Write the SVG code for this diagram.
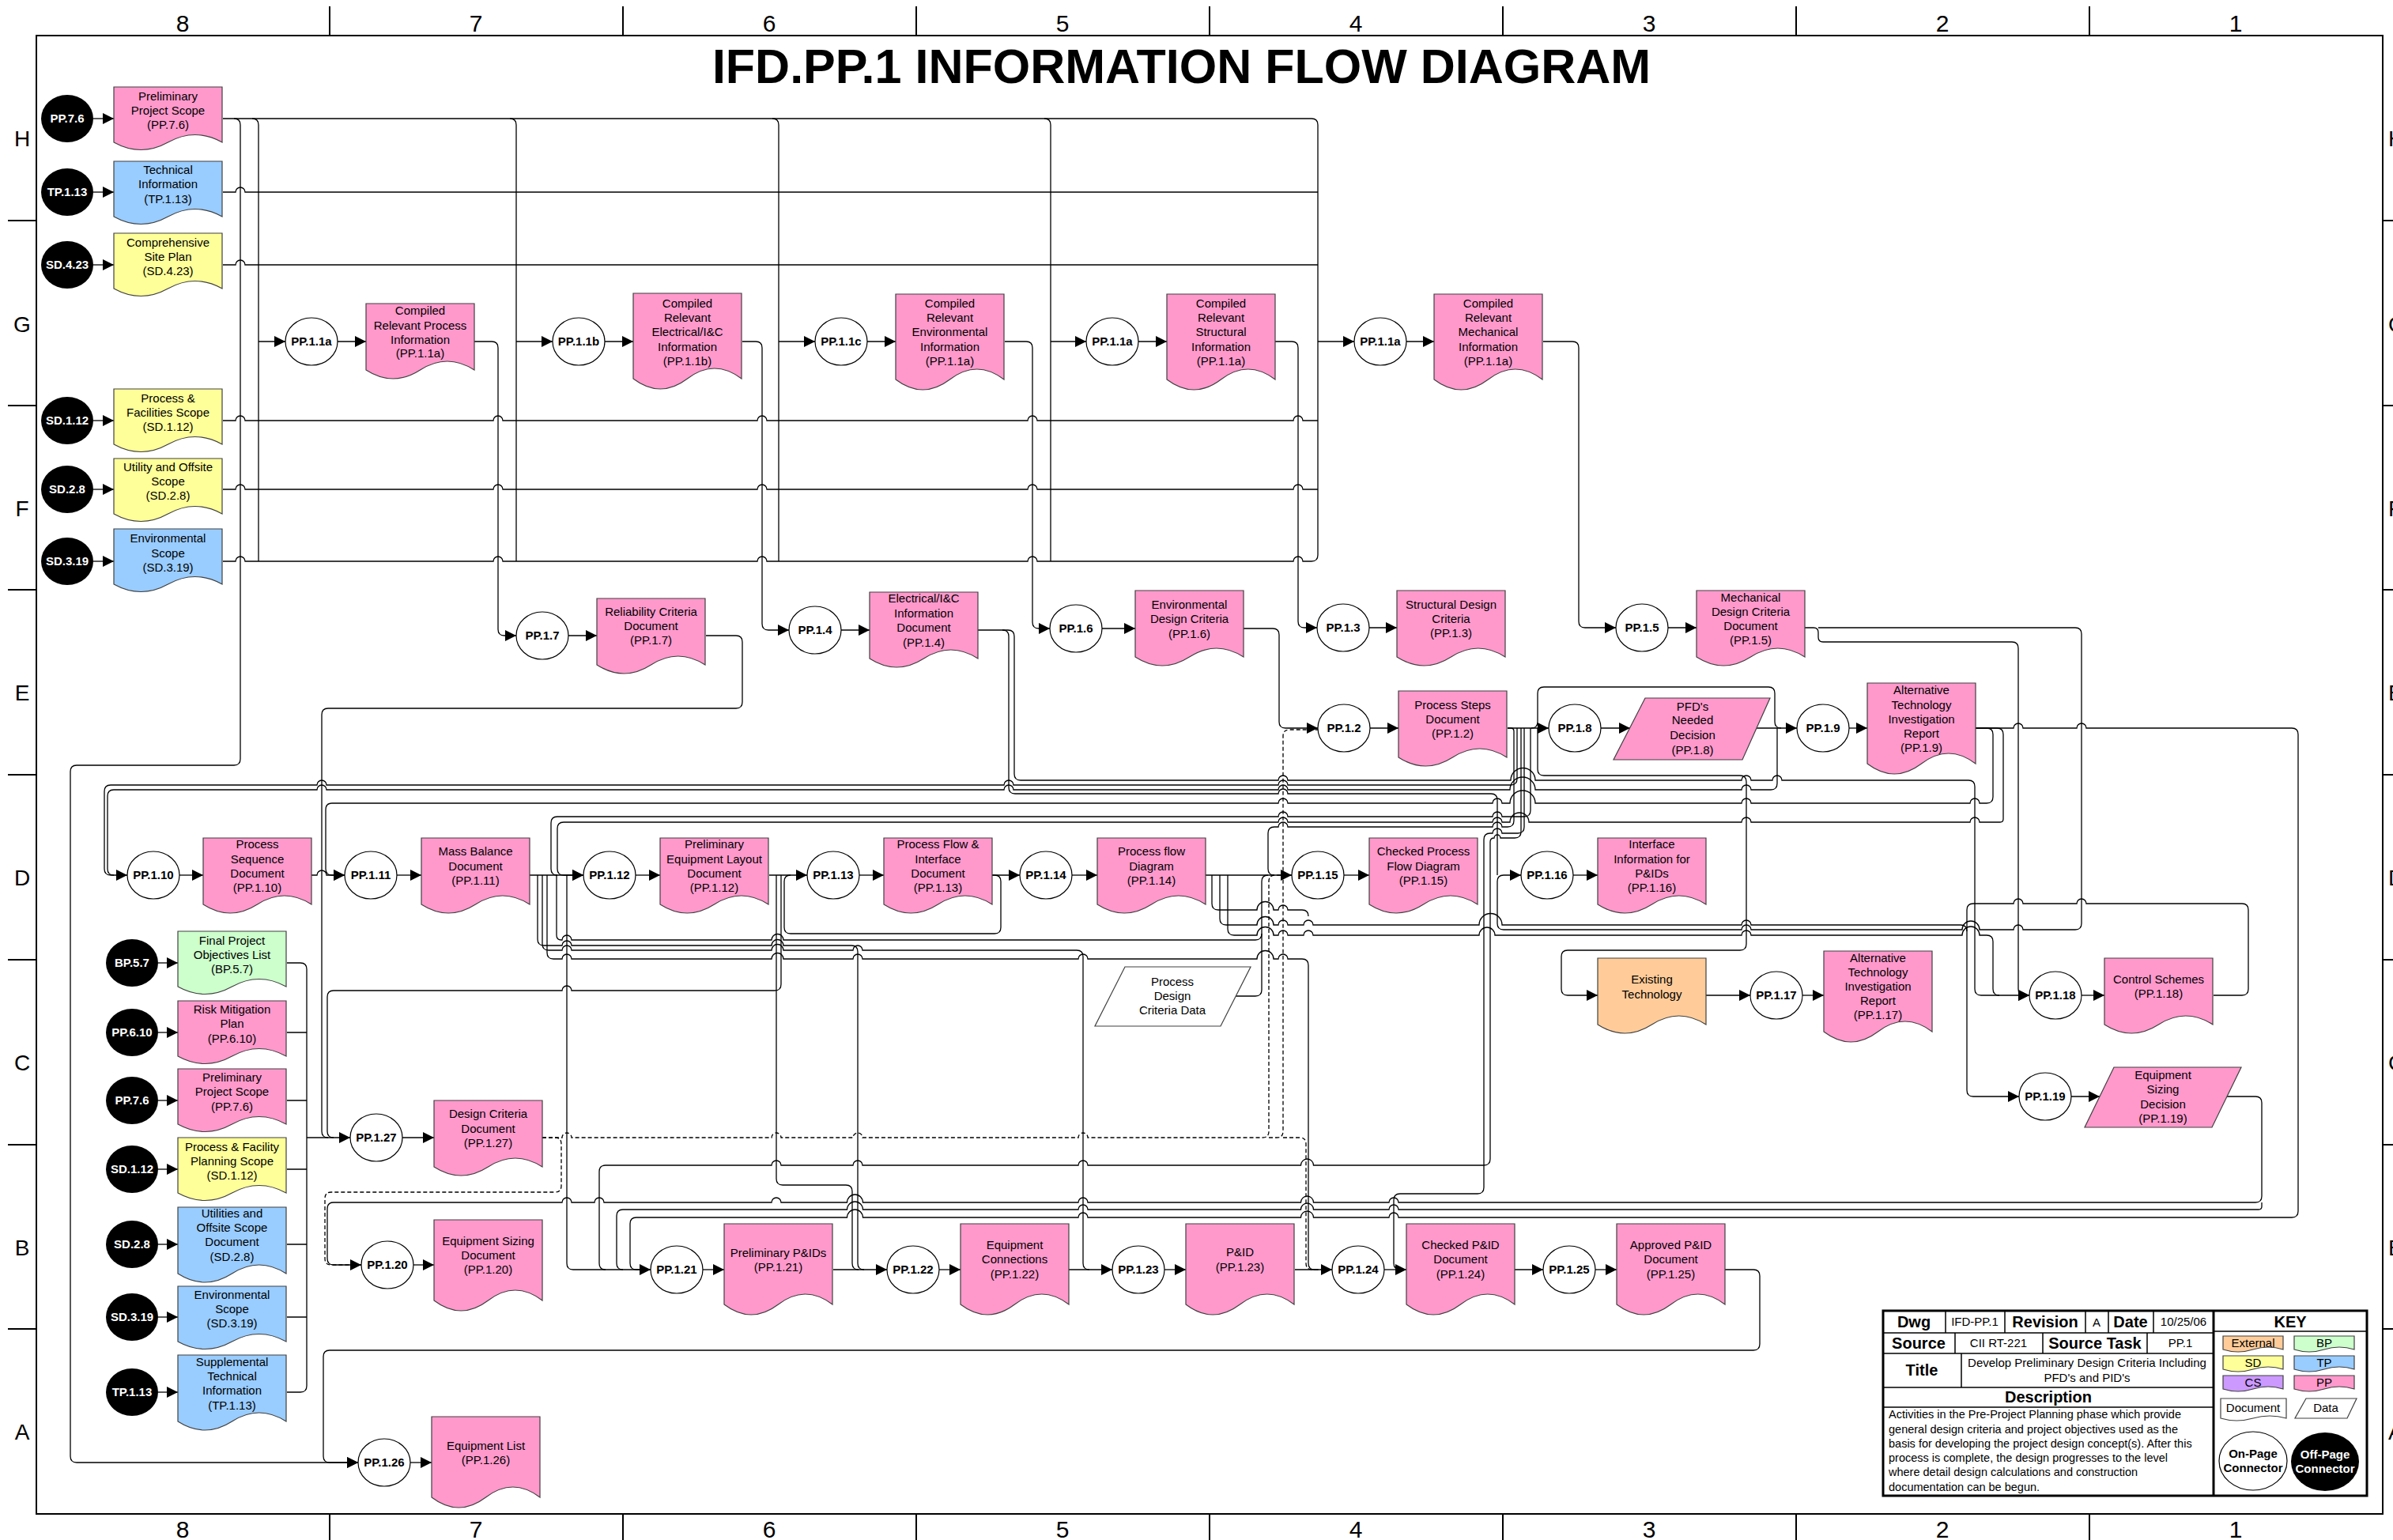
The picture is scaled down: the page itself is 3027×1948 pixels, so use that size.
<svg xmlns="http://www.w3.org/2000/svg" width="3027" height="1948" viewBox="0 0 3027 1948">
<style>
text{font-family:"Liberation Sans",Arial,Helvetica,sans-serif}
.t{font-size:15px;text-anchor:middle;fill:#000}
.c{font-size:15px;font-weight:bold;text-anchor:middle;fill:#000}
.cw{font-size:15px;font-weight:bold;text-anchor:middle;fill:#fff}
.on{fill:#fff;stroke:#000;stroke-width:1.2}
.off{fill:#000}
.doc{stroke:#404040;stroke-width:1.2}
.pk{fill:#FF99CC}.bl{fill:#99CCFF}.yl{fill:#FFFF99}.gr{fill:#CCFFCC}.or{fill:#FFCC99}.pu{fill:#CC99FF}.wh{fill:#fff}
.ln{fill:none;stroke:#000;stroke-width:1.3}
.ar{marker-end:url(#ar)}
.da{stroke-dasharray:5 3}
.fr{fill:none;stroke:#000;stroke-width:2}
.g{font-size:30px;text-anchor:middle}
.gs{font-size:28px}
.b20{font-size:20px;font-weight:bold;text-anchor:middle}
.r15{font-size:15px;text-anchor:middle}
.ds{font-size:14.5px}
</style>
<defs>
<marker id="ar" markerWidth="14" markerHeight="14" refX="14" refY="7" orient="auto" markerUnits="userSpaceOnUse"><path d="M0,0L14,7L0,14Z" fill="#000"/></marker>
<g id="d80"><path d="M0,0H137V70Q102.75,51 68.5,70T0,70Z"/></g>
<g id="d95"><path d="M0,0H137V84Q102.75,62 68.5,84T0,84Z"/></g>
<g id="d115"><path d="M0,0H137V102Q102.75,76 68.5,102T0,102Z"/></g>
<g id="d121"><path d="M0,0H137V108Q102.75,82 68.5,108T0,108Z"/></g>
<g id="k"><path d="M0,0H76V17Q57,11 38,17T0,17Z"/></g>
</defs>
<rect width="3027" height="1948" fill="#fff"/>

<g id="frame">
<rect class="fr" x="46" y="45" width="2968" height="1870"/>
<path class="fr" d="M417,8V45M788,8V45M1159,8V45M1530,8V45M1901,8V45M2272,8V45M2643,8V45M417,1915V1948M788,1915V1948M1159,1915V1948M1530,1915V1948M1901,1915V1948M2272,1915V1948M2643,1915V1948M10,279H46M10,513H46M10,746H46M10,980H46M10,1214H46M10,1448H46M10,1681H46M3014,279H3027M3014,513H3027M3014,746H3027M3014,980H3027M3014,1214H3027M3014,1448H3027M3014,1681H3027"/>
<text class="g" x="231" y="40">8</text><text class="g" x="602" y="40">7</text><text class="g" x="973" y="40">6</text><text class="g" x="1344" y="40">5</text><text class="g" x="1715" y="40">4</text><text class="g" x="2086" y="40">3</text><text class="g" x="2457" y="40">2</text><text class="g" x="2828" y="40">1</text>
<text class="g" x="231" y="1945">8</text><text class="g" x="602" y="1945">7</text><text class="g" x="973" y="1945">6</text><text class="g" x="1344" y="1945">5</text><text class="g" x="1715" y="1945">4</text><text class="g" x="2086" y="1945">3</text><text class="g" x="2457" y="1945">2</text><text class="g" x="2828" y="1945">1</text>
<text class="g gs" x="28" y="185">H</text><text class="g gs" x="28" y="420">G</text><text class="g gs" x="28" y="653">F</text><text class="g gs" x="28" y="886">E</text><text class="g gs" x="28" y="1120">D</text><text class="g gs" x="28" y="1354">C</text><text class="g gs" x="28" y="1588">B</text><text class="g gs" x="28" y="1821">A</text>
<text class="gs" x="3021" y="185">H</text><text class="gs" x="3021" y="420">G</text><text class="gs" x="3021" y="653">F</text><text class="gs" x="3021" y="886">E</text><text class="gs" x="3021" y="1120">D</text><text class="gs" x="3021" y="1354">C</text><text class="gs" x="3021" y="1588">B</text><text class="gs" x="3021" y="1821">A</text>
<text x="1494.5" y="105" font-size="61" font-weight="bold" text-anchor="middle">IFD.PP.1 INFORMATION FLOW DIAGRAM</text>
</g>

<g id="connectors">
<path class="ln ar" d="M118,150H144"/><path class="ln ar" d="M118,243H144"/><path class="ln ar" d="M118,335H144"/><path class="ln ar" d="M118,532H144"/><path class="ln ar" d="M118,619H144"/><path class="ln ar" d="M118,710H144"/>
<path class="ln ar" d="M200,1218H225"/><path class="ln ar" d="M200,1306H225"/><path class="ln ar" d="M200,1392H225"/><path class="ln ar" d="M200,1479H225"/><path class="ln ar" d="M200,1574H225"/><path class="ln ar" d="M200,1666H225"/><path class="ln ar" d="M200,1761H225"/>
<path class="ln" d="M282,150H1659Q1667,150 1667,158"/>
<path class="ln" d="M282,243H298a6,6 0 0 1 12,0H1667"/>
<path class="ln" d="M282,335H298a6,6 0 0 1 12,0H1667"/>
<path class="ln" d="M282,532H298a6,6 0 0 1 12,0H624a6,6 0 0 1 12,0H958a6,6 0 0 1 12,0H1300a6,6 0 0 1 12,0H1636a6,6 0 0 1 12,0H1667"/>
<path class="ln" d="M282,619H298a6,6 0 0 1 12,0H624a6,6 0 0 1 12,0H958a6,6 0 0 1 12,0H1300a6,6 0 0 1 12,0H1636a6,6 0 0 1 12,0H1667"/>
<path class="ln" d="M282,710H298a6,6 0 0 1 12,0H624a6,6 0 0 1 12,0H958a6,6 0 0 1 12,0H1300a6,6 0 0 1 12,0H1636a6,6 0 0 1 12,0H1659Q1667,710 1667,702"/>
<path class="ln" d="M319,150Q327,150 327,158V710M645,150Q653,150 653,158V710M977,150Q985,150 985,158V710M1321,150Q1329,150 1329,158V710M1667,158V702"/>
<path class="ln ar" d="M327,432H361"/><path class="ln ar" d="M653,432H699"/><path class="ln ar" d="M985,432H1031"/><path class="ln ar" d="M1329,432H1374"/><path class="ln ar" d="M1667,432H1713"/>
<path class="ln ar" d="M427,432H463"/><path class="ln ar" d="M765,432H801"/><path class="ln ar" d="M1097,432H1133"/><path class="ln ar" d="M1440,432H1476"/><path class="ln ar" d="M1779,432H1814"/>
<path class="ln ar" d="M600,432H622Q630,432 630,440V796Q630,804 638,804H653"/>
<path class="ln ar" d="M939,432H956Q964,432 964,440V789Q964,797 972,797H998"/>
<path class="ln ar" d="M1271,432H1298Q1306,432 1306,440V787Q1306,795 1314,795H1328"/>
<path class="ln ar" d="M1613,432H1634Q1642,432 1642,440V786Q1642,794 1650,794H1666"/>
<path class="ln ar" d="M1952,432H1989Q1997,432 1997,440V786Q1997,794 2005,794H2044"/>
<path class="ln ar" d="M719,804H755"/><path class="ln ar" d="M1064,797H1100"/><path class="ln ar" d="M1394,795H1436"/><path class="ln ar" d="M1732,794H1767"/><path class="ln ar" d="M2110,794H2146"/>
<path class="ln ar" d="M296,150Q304,150 304,158V960Q304,968 296,968H97Q89,968 89,976V1842Q89,1850 97,1850H453"/>
<path class="ln" d="M893,804H931Q939,804 939,812V888Q939,896 931,896H415Q407,896 407,904V1431Q407,1439 415,1439"/>
<path class="ln" d="M363,1218H380Q388,1218 388,1226V1753Q388,1761 380,1761H363M363,1306H388M363,1392H388M363,1479H388M363,1574H388M363,1666H388"/>
<path class="ln ar" d="M388,1439H443"/>
<path class="ln ar" d="M1573,795H1610Q1618,795 1618,803V913Q1618,921 1626,921H1667"/>
<path class="ln ar" d="M1733,921H1769"/>
<path class="ln ar" d="M1907,921H1959"/>
<path class="ln ar" d="M2025,921H2062"/>
<path class="ln ar" d="M2222,921H2273"/>
<path class="ln" d="M1937,921Q1945,921 1945,913V877Q1945,869 1953,869H2237Q2245,869 2245,877V913Q2245,921 2253,921"/>
<path class="ln ar" d="M2339,921H2362"/>
<path class="ln ar" d="M2498,921H2547a6,6 0 0 1 12,0H2627a6,6 0 0 1 12,0H2899Q2907,921 2907,929V1532Q2907,1540 2899,1540H1769a6,6 0 0 0 -12,0H1661.5a8,8 0 0 0 -16,0H1376a6,6 0 0 0 -12,0H1091.5a10,10 0 0 0 -20,0H805Q797,1540 797,1548V1598Q797,1606 805,1606H823"/>
<path class="ln ar" d="M2283,794H2294Q2300,794 2300,800V806Q2300,812 2306,812H2545Q2553,812 2553,820V1251Q2553,1259 2561,1259H2567"/>
<path class="ln ar" d="M2300,794H2625Q2633,794 2633,802V1168Q2633,1176 2625,1176H2559a6,6 0 0 0 -12,0H2504a11,11 0 0 0 -22,0H2215a6,6 0 0 0 -12,0H1902Q1894,1176 1894,1168V1115Q1894,1107 1902,1107H1924"/>
<path class="ln ar" d="M2800,1259H2836Q2844,1259 2844,1251V1151Q2844,1143 2836,1143H2639a6,6 0 0 0 -12,0H2559a6,6 0 0 0 -12,0H2496Q2488,1143 2488,1151V1379Q2488,1387 2496,1387H2554"/>
<path class="ln ar" d="M2620,1387H2656"/>
<path class="ln ar" d="M2817,1387H2853Q2861,1387 2861,1395V1513Q2861,1521 2853,1521H1769a6,6 0 0 0 -12,0H1661.5a8,8 0 0 0 -16,0H1376a6,6 0 0 0 -12,0H1091.5a10,10 0 0 0 -20,0H988a6,6 0 0 0 -12,0H764a6,6 0 0 0 -12,0H723a6,6 0 0 0 -12,0H422Q414,1521 414,1529V1592Q414,1600 422,1600H457"/>
<path class="ln" d="M2861,1521V1526Q2861,1530 2857,1530H1769a6,6 0 0 0 -12,0H1661.5a8,8 0 0 0 -16,0H1376a6,6 0 0 0 -12,0H1091.5a10,10 0 0 0 -20,0H788Q780,1530 780,1538V1598Q780,1606 788,1606"/>
<path class="ln ar" d="M2158,1259H2214"/>
<path class="ln ar" d="M2280,1259H2307"/>
<path class="ln ar" d="M2633,1259H2662"/>
<path class="ln ar" d="M1945,921V973Q1945,981 1953,981H2201Q2209,981 2209,989V1194Q2209,1202 2201,1202H1983Q1975,1202 1975,1210V1251Q1975,1259 1983,1259H2021"/>
<path class="ln ar" d="M1919,921V985Q1919,993 1911,993H1629a6,6 0 0 0 -12,0H1282a6,6 0 0 0 -12,0H413a6,6 0 0 0 -12,0H140Q132,993 132,1001V1099Q132,1107 140,1107H161"/>
<path class="ln" d="M2248,921V991Q2248,999 2240,999H2215a6,6 0 0 0 -12,0H1942a16,16 0 0 0 -32,0H1629a6,6 0 0 0 -12,0H1282a6,6 0 0 0 -12,0H413a6,6 0 0 0 -12,0H144Q136,999 136,1007V1099Q136,1107 144,1107"/>
<path class="ln ar" d="M2498,921H2513Q2521,921 2521,929V1008Q2521,1016 2513,1016H2504a6,6 0 0 0 -12,0H2215a6,6 0 0 0 -12,0H1942a16,16 0 0 0 -32,0H1900a6,6 0 0 0 -12,0H1629a6,6 0 0 0 -12,0H420Q412,1016 412,1024V1099Q412,1107 420,1107H436"/>
<path class="ln ar" d="M2498,921H2526Q2534,921 2534,929V1036Q2534,1040 2530,1040H2504a6,6 0 0 0 -12,0H2215a6,6 0 0 0 -12,0H1934a12,12 0 0 0 -24,0H1900a6,6 0 0 0 -12,0H1629a6,6 0 0 0 -12,0H713Q705,1040 705,1048V1099Q705,1107 713,1107H738"/>
<path class="ln" d="M1936,921V1025Q1936,1033 1928,1033H1900a6,6 0 0 0 -12,0H1629a6,6 0 0 0 -12,0H705Q697,1033 697,1041V1099Q697,1107 705,1107"/>
<path class="ln ar" d="M1237,797H1275Q1283,797 1283,805V979Q1283,987 1291,987H1617a6,6 0 0 1 12,0H1911a15.5,15.5 0 0 1 31,0H2203a6,6 0 0 1 12,0H2242a6,6 0 0 1 12,0H2490Q2498,987 2498,995V1251Q2498,1259 2506,1259H2567"/>
<path class="ln" d="M1268,797Q1276,797 1276,805V996Q1276,1004 1284,1004H1617a6,6 0 0 1 12,0H1886Q1894,1004 1894,1012V1107"/>
<path class="ln" d="M1907,921H1911Q1915,921 1915,925V1038Q1915,1046 1907,1046H1900a6,6 0 0 0 -12,0H1629a6,6 0 0 0 -12,0H1612Q1604,1046 1604,1054V1099Q1604,1107 1612,1107"/>
<path class="ln ar" d="M227,1107H257"/>
<path class="ln ar" d="M394,1107H401a6,6 0 0 1 12,0H436"/>
<path class="ln ar" d="M502,1107H533"/>
<path class="ln ar" d="M670,1107H738"/>
<path class="ln ar" d="M804,1107H835"/>
<path class="ln ar" d="M973,1107H1021"/>
<path class="ln ar" d="M1087,1107H1118"/>
<path class="ln ar" d="M1255,1107H1290"/>
<path class="ln ar" d="M1356,1107H1388"/>
<path class="ln ar" d="M1525,1107H1634"/>
<path class="ln ar" d="M1700,1107H1732"/>
<path class="ln ar" d="M1990,1107H2021"/>
<path class="ln" d="M680,1107V1188Q680,1196 688,1196H711a6,6 0 0 1 12,0H976a7.5,7.5 0 0 1 15,0H1077Q1085,1196 1085,1204V1598Q1085,1606 1093,1606"/>
<path class="ln" d="M686,1107V1194Q686,1202 694,1202H711a6,6 0 0 1 12,0H976a7.5,7.5 0 0 1 15,0H1079a6,6 0 0 1 12,0H1362Q1370,1202 1370,1210V1598Q1370,1606 1378,1606"/>
<path class="ln" d="M692,1107V1205Q692,1213 700,1213H711a6,6 0 0 1 12,0H976a7.5,7.5 0 0 1 15,0H1079a6,6 0 0 1 12,0H1364a6,6 0 0 1 12,0H1590a10.5,10.5 0 0 1 21,0H1617a6,6 0 0 1 12,0H1647Q1655,1213 1655,1221V1598Q1655,1606 1663,1606"/>
<path class="ln" d="M717,1107V1598Q717,1606 725,1606H823"/>
<path class="ln" d="M704,1107V1183Q704,1189 710,1189H711a6,6 0 0 1 12,0H976a7.5,7.5 0 0 1 15,0H1588Q1596,1189 1596,1181"/>
<path class="ln" d="M988,1107V1245Q988,1253 980,1253H723a6,6 0 0 0 -12,0H422Q414,1253 414,1261V1431Q414,1439 422,1439"/>
<path class="ln" d="M982,1107V1491Q982,1499 990,1499H1070Q1078,1499 1078,1507V1598Q1078,1606 1086,1606"/>
<path class="ln" d="M1255,1107H1258Q1266,1107 1266,1115V1173Q1266,1181 1258,1181H1000Q992,1181 992,1173V1115Q992,1107 1000,1107"/>
<path class="ln" d="M1563,1260H1588Q1596,1260 1596,1252V1115Q1596,1107 1604,1107"/>
<path class="ln" d="M1533,1107V1143Q1533,1151 1541,1151H1590a10.5,10.5 0 0 1 21,0H1617a6,6 0 0 1 12,0H1647Q1655,1151 1655,1159"/>
<path class="ln" d="M1543,1107V1162Q1543,1170 1551,1170H1590a10.5,10.5 0 0 1 21,0H1617a6,6 0 0 1 12,0H1649a6,6 0 0 1 12,0H1871a14.5,14.5 0 0 1 29,0H2203a6,6 0 0 1 12,0H2480Q2488,1170 2488,1178"/>
<path class="ln" d="M1553,1107V1175Q1553,1183 1561,1183H1590a10.5,10.5 0 0 1 21,0H1617a6,6 0 0 1 12,0H1649a6,6 0 0 1 12,0H1871a10,10 0 0 1 20,0H2203a6,6 0 0 1 12,0H2482a11,11 0 0 1 22,0H2513Q2521,1183 2521,1191V1251Q2521,1259 2529,1259"/>
<path class="ln" d="M1928,921V1046Q1928,1054 1920,1054H1900a6,6 0 0 0 -12,0H1885Q1877,1054 1877,1062V1502Q1877,1510 1869,1510H1771Q1763,1510 1763,1518V1598Q1763,1606 1771,1606"/>
<path class="ln" d="M1924,921V1052Q1924,1060 1916,1060H1898a4,4 0 0 0 -8,0Q1885,1060 1885,1065V1466Q1885,1474 1877,1474H1661.5a8,8 0 0 0 -16,0H1376a6,6 0 0 0 -12,0H1091a6,6 0 0 0 -12,0H988a6,6 0 0 0 -12,0H766Q758,1474 758,1482V1598Q758,1606 766,1606"/>
<path class="ln da" d="M686,1439H711a6,6 0 0 1 12,0H976a6,6 0 0 1 12,0H1079a6,6 0 0 1 12,0H1364a6,6 0 0 1 12,0H1597Q1605,1439 1605,1431V1115Q1605,1107 1613,1107H1634"/>
<path class="ln da" d="M1605,1439H1615Q1623,1439 1623,1431V931Q1623,923 1631,923H1667"/>
<path class="ln da" d="M1623,1439H1644Q1652,1439 1652,1447V1598Q1652,1606 1660,1606H1685"/>
<path class="ln da" d="M686,1439H702Q710,1439 710,1447V1500Q710,1508 702,1508H419Q411,1508 411,1516V1592Q411,1600 419,1600H457"/>
<path class="ln ar" d="M889,1606H916"/><path class="ln ar" d="M1054,1606H1122"/><path class="ln ar" d="M1188,1606H1215"/><path class="ln ar" d="M1352,1606H1407"/><path class="ln ar" d="M1473,1606H1500"/><path class="ln ar" d="M1638,1606H1685"/><path class="ln ar" d="M1751,1606H1779"/><path class="ln ar" d="M1916,1606H1952"/><path class="ln ar" d="M2018,1606H2045"/>
<path class="ln ar" d="M523,1600H549"/><path class="ln ar" d="M509,1439H549"/><path class="ln ar" d="M519,1850H546"/>
<path class="ln ar" d="M2181,1606H2218Q2226,1606 2226,1614V1700Q2226,1708 2218,1708H417Q409,1708 409,1716V1842Q409,1850 417,1850H453"/>
</g>

<g id="n-off-pp76"><ellipse class="off" cx="85" cy="150" rx="33" ry="30"/><text class="cw" x="85" y="155">PP.7.6</text></g>
<g id="n-off-tp113"><ellipse class="off" cx="85" cy="243" rx="33" ry="30"/><text class="cw" x="85" y="248">TP.1.13</text></g>
<g id="n-off-sd423"><ellipse class="off" cx="85" cy="335" rx="33" ry="30"/><text class="cw" x="85" y="340">SD.4.23</text></g>
<g id="n-off-sd112"><ellipse class="off" cx="85" cy="532" rx="33" ry="30"/><text class="cw" x="85" y="537">SD.1.12</text></g>
<g id="n-off-sd28"><ellipse class="off" cx="85" cy="619" rx="33" ry="30"/><text class="cw" x="85" y="624">SD.2.8</text></g>
<g id="n-off-sd319"><ellipse class="off" cx="85" cy="710" rx="33" ry="30"/><text class="cw" x="85" y="715">SD.3.19</text></g>

<g id="n-doc-pp76"><use href="#d80" x="144" y="110" class="doc pk"/><text class="t" x="212.5" y="127">Preliminary</text><text class="t" x="212.5" y="145">Project Scope</text><text class="t" x="212.5" y="163">(PP.7.6)</text></g>
<g id="n-doc-tp113"><use href="#d80" x="144" y="204" class="doc bl"/><text class="t" x="212.5" y="220">Technical</text><text class="t" x="212.5" y="238">Information</text><text class="t" x="212.5" y="257">(TP.1.13)</text></g>
<g id="n-doc-sd423"><use href="#d80" x="144" y="295" class="doc yl"/><text class="t" x="212.5" y="312">Comprehensive</text><text class="t" x="212.5" y="330">Site Plan</text><text class="t" x="212.5" y="348">(SD.4.23)</text></g>
<g id="n-doc-sd112"><use href="#d80" x="144" y="492" class="doc yl"/><text class="t" x="212.5" y="509">Process &amp;</text><text class="t" x="212.5" y="527">Facilities Scope</text><text class="t" x="212.5" y="545">(SD.1.12)</text></g>
<g id="n-doc-sd28"><use href="#d80" x="144" y="580" class="doc yl"/><text class="t" x="212.5" y="596">Utility and Offsite</text><text class="t" x="212.5" y="614">Scope</text><text class="t" x="212.5" y="632">(SD.2.8)</text></g>
<g id="n-doc-sd319"><use href="#d80" x="144" y="669" class="doc bl"/><text class="t" x="212.5" y="686">Environmental</text><text class="t" x="212.5" y="705">Scope</text><text class="t" x="212.5" y="723">(SD.3.19)</text></g>

<g id="n-pp11a-1"><ellipse class="on" cx="394" cy="432" rx="33" ry="30"/><text class="c" x="394" y="437">PP.1.1a</text></g>
<g id="n-doc-pp11a-1"><use href="#d95" x="463" y="384" class="doc pk"/><text class="t" x="531.5" y="398">Compiled</text><text class="t" x="531.5" y="417">Relevant Process</text><text class="t" x="531.5" y="435">Information</text><text class="t" x="531.5" y="452">(PP.1.1a)</text></g>
<g id="n-pp11b"><ellipse class="on" cx="732" cy="432" rx="33" ry="30"/><text class="c" x="732" y="437">PP.1.1b</text></g>
<g id="n-doc-pp11b"><use href="#d121" x="801" y="371" class="doc pk"/><text class="t" x="869.5" y="389">Compiled</text><text class="t" x="869.5" y="407">Relevant</text><text class="t" x="869.5" y="425">Electrical/I&amp;C</text><text class="t" x="869.5" y="444">Information</text><text class="t" x="869.5" y="462">(PP.1.1b)</text></g>
<g id="n-pp11c"><ellipse class="on" cx="1064" cy="432" rx="33" ry="30"/><text class="c" x="1064" y="437">PP.1.1c</text></g>
<g id="n-doc-pp11c"><use href="#d121" x="1133" y="372" class="doc pk"/><text class="t" x="1201.5" y="389">Compiled</text><text class="t" x="1201.5" y="407">Relevant</text><text class="t" x="1201.5" y="425">Environmental</text><text class="t" x="1201.5" y="444">Information</text><text class="t" x="1201.5" y="462">(PP.1.1a)</text></g>
<g id="n-pp11a-2"><ellipse class="on" cx="1407" cy="432" rx="33" ry="30"/><text class="c" x="1407" y="437">PP.1.1a</text></g>
<g id="n-doc-pp11a-2"><use href="#d121" x="1476" y="372" class="doc pk"/><text class="t" x="1544.5" y="389">Compiled</text><text class="t" x="1544.5" y="407">Relevant</text><text class="t" x="1544.5" y="425">Structural</text><text class="t" x="1544.5" y="444">Information</text><text class="t" x="1544.5" y="462">(PP.1.1a)</text></g>
<g id="n-pp11a-3"><ellipse class="on" cx="1746" cy="432" rx="33" ry="30"/><text class="c" x="1746" y="437">PP.1.1a</text></g>
<g id="n-doc-pp11a-3"><use href="#d121" x="1814" y="372" class="doc pk"/><text class="t" x="1882.5" y="389">Compiled</text><text class="t" x="1882.5" y="407">Relevant</text><text class="t" x="1882.5" y="425">Mechanical</text><text class="t" x="1882.5" y="444">Information</text><text class="t" x="1882.5" y="462">(PP.1.1a)</text></g>

<g id="n-pp17"><ellipse class="on" cx="686" cy="804" rx="33" ry="30"/><text class="c" x="686" y="809">PP.1.7</text></g>
<g id="n-doc-pp17"><use href="#d95" x="755" y="757" class="doc pk"/><text class="t" x="823.5" y="779">Reliability Criteria</text><text class="t" x="823.5" y="797">Document</text><text class="t" x="823.5" y="815">(PP.1.7)</text></g>
<g id="n-pp14"><ellipse class="on" cx="1031" cy="797" rx="33" ry="30"/><text class="c" x="1031" y="802">PP.1.4</text></g>
<g id="n-doc-pp14"><use href="#d95" x="1100" y="749" class="doc pk"/><text class="t" x="1168.5" y="762">Electrical/I&amp;C</text><text class="t" x="1168.5" y="781">Information</text><text class="t" x="1168.5" y="799">Document</text><text class="t" x="1168.5" y="818">(PP.1.4)</text></g>
<g id="n-pp16"><ellipse class="on" cx="1361" cy="795" rx="33" ry="30"/><text class="c" x="1361" y="800">PP.1.6</text></g>
<g id="n-doc-pp16"><use href="#d95" x="1436" y="747" class="doc pk"/><text class="t" x="1504.5" y="770">Environmental</text><text class="t" x="1504.5" y="788">Design Criteria</text><text class="t" x="1504.5" y="807">(PP.1.6)</text></g>
<g id="n-pp13"><ellipse class="on" cx="1699" cy="794" rx="33" ry="30"/><text class="c" x="1699" y="799">PP.1.3</text></g>
<g id="n-doc-pp13"><use href="#d95" x="1767" y="747" class="doc pk"/><text class="t" x="1835.5" y="770">Structural Design</text><text class="t" x="1835.5" y="788">Criteria</text><text class="t" x="1835.5" y="806">(PP.1.3)</text></g>
<g id="n-pp15"><ellipse class="on" cx="2077" cy="794" rx="33" ry="30"/><text class="c" x="2077" y="799">PP.1.5</text></g>
<g id="n-doc-pp15"><use href="#d95" x="2146" y="747" class="doc pk"/><text class="t" x="2214.5" y="761">Mechanical</text><text class="t" x="2214.5" y="779">Design Criteria</text><text class="t" x="2214.5" y="797">Document</text><text class="t" x="2214.5" y="815">(PP.1.5)</text></g>
<g id="n-pp12"><ellipse class="on" cx="1700" cy="921" rx="33" ry="30"/><text class="c" x="1700" y="926">PP.1.2</text></g>
<g id="n-doc-pp12"><use href="#d95" x="1769" y="874" class="doc pk"/><text class="t" x="1837.5" y="897">Process Steps</text><text class="t" x="1837.5" y="915">Document</text><text class="t" x="1837.5" y="933">(PP.1.2)</text></g>
<g id="n-pp18"><ellipse class="on" cx="1992" cy="921" rx="33" ry="30"/><text class="c" x="1992" y="926">PP.1.8</text></g>
<g id="n-data-pp18"><path class="doc pk" d="M2081,883H2239L2204,961H2041Z"/><text class="t" x="2141" y="899">PFD's</text><text class="t" x="2141" y="916">Needed</text><text class="t" x="2141" y="935">Decision</text><text class="t" x="2141" y="954">(PP.1.8)</text></g>
<g id="n-pp19"><ellipse class="on" cx="2306" cy="921" rx="33" ry="30"/><text class="c" x="2306" y="926">PP.1.9</text></g>
<g id="n-doc-pp19"><use href="#d115" x="2362" y="864" class="doc pk"/><text class="t" x="2430.5" y="878">Alternative</text><text class="t" x="2430.5" y="897">Technology</text><text class="t" x="2430.5" y="915">Investigation</text><text class="t" x="2430.5" y="933">Report</text><text class="t" x="2430.5" y="951">(PP.1.9)</text></g>

<g id="n-pp110"><ellipse class="on" cx="194" cy="1107" rx="33" ry="30"/><text class="c" x="194" y="1112">PP.1.10</text></g>
<g id="n-doc-pp110"><use href="#d95" x="257" y="1060" class="doc pk"/><text class="t" x="325.5" y="1073">Process</text><text class="t" x="325.5" y="1092">Sequence</text><text class="t" x="325.5" y="1110">Document</text><text class="t" x="325.5" y="1128">(PP.1.10)</text></g>
<g id="n-pp111"><ellipse class="on" cx="469" cy="1107" rx="33" ry="30"/><text class="c" x="469" y="1112">PP.1.11</text></g>
<g id="n-doc-pp111"><use href="#d95" x="533" y="1060" class="doc pk"/><text class="t" x="601.5" y="1082">Mass Balance</text><text class="t" x="601.5" y="1101">Document</text><text class="t" x="601.5" y="1119">(PP.1.11)</text></g>
<g id="n-pp112"><ellipse class="on" cx="771" cy="1107" rx="33" ry="30"/><text class="c" x="771" y="1112">PP.1.12</text></g>
<g id="n-doc-pp112"><use href="#d95" x="835" y="1060" class="doc pk"/><text class="t" x="903.5" y="1073">Preliminary</text><text class="t" x="903.5" y="1092">Equipment Layout</text><text class="t" x="903.5" y="1110">Document</text><text class="t" x="903.5" y="1128">(PP.1.12)</text></g>
<g id="n-pp113"><ellipse class="on" cx="1054" cy="1107" rx="33" ry="30"/><text class="c" x="1054" y="1112">PP.1.13</text></g>
<g id="n-doc-pp113"><use href="#d95" x="1118" y="1060" class="doc pk"/><text class="t" x="1186.5" y="1073">Process Flow &amp;</text><text class="t" x="1186.5" y="1092">Interface</text><text class="t" x="1186.5" y="1110">Document</text><text class="t" x="1186.5" y="1128">(PP.1.13)</text></g>
<g id="n-pp114"><ellipse class="on" cx="1323" cy="1107" rx="33" ry="30"/><text class="c" x="1323" y="1112">PP.1.14</text></g>
<g id="n-doc-pp114"><use href="#d95" x="1388" y="1060" class="doc pk"/><text class="t" x="1456.5" y="1082">Process flow</text><text class="t" x="1456.5" y="1101">Diagram</text><text class="t" x="1456.5" y="1119">(PP.1.14)</text></g>
<g id="n-pp115"><ellipse class="on" cx="1667" cy="1107" rx="33" ry="30"/><text class="c" x="1667" y="1112">PP.1.15</text></g>
<g id="n-doc-pp115"><use href="#d95" x="1732" y="1060" class="doc pk"/><text class="t" x="1800.5" y="1082">Checked Process</text><text class="t" x="1800.5" y="1101">Flow Diagram</text><text class="t" x="1800.5" y="1119">(PP.1.15)</text></g>
<g id="n-pp116"><ellipse class="on" cx="1957" cy="1107" rx="33" ry="30"/><text class="c" x="1957" y="1112">PP.1.16</text></g>
<g id="n-doc-pp116"><use href="#d95" x="2021" y="1060" class="doc pk"/><text class="t" x="2089.5" y="1073">Interface</text><text class="t" x="2089.5" y="1092">Information for</text><text class="t" x="2089.5" y="1110">P&amp;IDs</text><text class="t" x="2089.5" y="1128">(PP.1.16)</text></g>
<g id="n-data-pdcd"><path class="doc wh" d="M1423,1223H1582L1544,1298H1385Z"/><text class="t" x="1483" y="1247">Process</text><text class="t" x="1483" y="1265">Design</text><text class="t" x="1483" y="1283">Criteria Data</text></g>

<g id="n-doc-exist"><use href="#d95" x="2021" y="1212" class="doc or"/><text class="t" x="2089.5" y="1244">Existing</text><text class="t" x="2089.5" y="1263">Technology</text></g>
<g id="n-pp117"><ellipse class="on" cx="2247" cy="1259" rx="33" ry="30"/><text class="c" x="2247" y="1264">PP.1.17</text></g>
<g id="n-doc-pp117"><use href="#d115" x="2307" y="1203" class="doc pk"/><text class="t" x="2375.5" y="1217">Alternative</text><text class="t" x="2375.5" y="1235">Technology</text><text class="t" x="2375.5" y="1253">Investigation</text><text class="t" x="2375.5" y="1271">Report</text><text class="t" x="2375.5" y="1289">(PP.1.17)</text></g>
<g id="n-pp118"><ellipse class="on" cx="2600" cy="1259" rx="33" ry="30"/><text class="c" x="2600" y="1264">PP.1.18</text></g>
<g id="n-doc-pp118"><use href="#d95" x="2662" y="1212" class="doc pk"/><text class="t" x="2730.5" y="1244">Control Schemes</text><text class="t" x="2730.5" y="1262">(PP.1.18)</text></g>
<g id="n-pp119"><ellipse class="on" cx="2587" cy="1387" rx="33" ry="30"/><text class="c" x="2587" y="1392">PP.1.19</text></g>
<g id="n-data-pp119"><path class="doc pk" d="M2674,1350H2835L2798,1426H2637Z"/><text class="t" x="2736" y="1365">Equipment</text><text class="t" x="2736" y="1383">Sizing</text><text class="t" x="2736" y="1402">Decision</text><text class="t" x="2736" y="1420">(PP.1.19)</text></g>

<g id="n-off-bp57"><ellipse class="off" cx="167" cy="1218" rx="33" ry="30"/><text class="cw" x="167" y="1223">BP.5.7</text></g>
<g id="n-doc-bp57"><use href="#d80" x="225" y="1178" class="doc gr"/><text class="t" x="293.5" y="1195">Final Project</text><text class="t" x="293.5" y="1213">Objectives List</text><text class="t" x="293.5" y="1231">(BP.5.7)</text></g>
<g id="n-off-pp610"><ellipse class="off" cx="167" cy="1306" rx="33" ry="30"/><text class="cw" x="167" y="1311">PP.6.10</text></g>
<g id="n-doc-pp610"><use href="#d80" x="225" y="1266" class="doc pk"/><text class="t" x="293.5" y="1282">Risk Mitigation</text><text class="t" x="293.5" y="1300">Plan</text><text class="t" x="293.5" y="1319">(PP.6.10)</text></g>
<g id="n-off-pp76b"><ellipse class="off" cx="167" cy="1392" rx="33" ry="30"/><text class="cw" x="167" y="1397">PP.7.6</text></g>
<g id="n-doc-pp76b"><use href="#d80" x="225" y="1352" class="doc pk"/><text class="t" x="293.5" y="1368">Preliminary</text><text class="t" x="293.5" y="1386">Project Scope</text><text class="t" x="293.5" y="1405">(PP.7.6)</text></g>
<g id="n-off-sd112b"><ellipse class="off" cx="167" cy="1479" rx="33" ry="30"/><text class="cw" x="167" y="1484">SD.1.12</text></g>
<g id="n-doc-sd112b"><use href="#d80" x="225" y="1439" class="doc yl"/><text class="t" x="293.5" y="1456">Process &amp; Facility</text><text class="t" x="293.5" y="1474">Planning Scope</text><text class="t" x="293.5" y="1492">(SD.1.12)</text></g>
<g id="n-off-sd28b"><ellipse class="off" cx="167" cy="1574" rx="33" ry="30"/><text class="cw" x="167" y="1579">SD.2.8</text></g>
<g id="n-doc-sd28b"><use href="#d95" x="225" y="1527" class="doc bl"/><text class="t" x="293.5" y="1540">Utilities and</text><text class="t" x="293.5" y="1558">Offsite Scope</text><text class="t" x="293.5" y="1576">Document</text><text class="t" x="293.5" y="1595">(SD.2.8)</text></g>
<g id="n-off-sd319b"><ellipse class="off" cx="167" cy="1666" rx="33" ry="30"/><text class="cw" x="167" y="1671">SD.3.19</text></g>
<g id="n-doc-sd319b"><use href="#d80" x="225" y="1627" class="doc bl"/><text class="t" x="293.5" y="1643">Environmental</text><text class="t" x="293.5" y="1661">Scope</text><text class="t" x="293.5" y="1679">(SD.3.19)</text></g>
<g id="n-off-tp113b"><ellipse class="off" cx="167" cy="1761" rx="33" ry="30"/><text class="cw" x="167" y="1766">TP.1.13</text></g>
<g id="n-doc-tp113b"><use href="#d95" x="225" y="1714" class="doc bl"/><text class="t" x="293.5" y="1728">Supplemental</text><text class="t" x="293.5" y="1746">Technical</text><text class="t" x="293.5" y="1764">Information</text><text class="t" x="293.5" y="1783">(TP.1.13)</text></g>

<g id="n-pp127"><ellipse class="on" cx="476" cy="1439" rx="33" ry="30"/><text class="c" x="476" y="1444">PP.1.27</text></g>
<g id="n-doc-pp127"><use href="#d95" x="549" y="1392" class="doc pk"/><text class="t" x="617.5" y="1414">Design Criteria</text><text class="t" x="617.5" y="1433">Document</text><text class="t" x="617.5" y="1451">(PP.1.27)</text></g>
<g id="n-pp120"><ellipse class="on" cx="490" cy="1600" rx="33" ry="30"/><text class="c" x="490" y="1605">PP.1.20</text></g>
<g id="n-doc-pp120"><use href="#d115" x="549" y="1543" class="doc pk"/><text class="t" x="617.5" y="1575">Equipment Sizing</text><text class="t" x="617.5" y="1593">Document</text><text class="t" x="617.5" y="1611">(PP.1.20)</text></g>
<g id="n-pp126"><ellipse class="on" cx="486" cy="1850" rx="33" ry="30"/><text class="c" x="486" y="1855">PP.1.26</text></g>
<g id="n-doc-pp126"><use href="#d115" x="546" y="1792" class="doc pk"/><text class="t" x="614.5" y="1834">Equipment List</text><text class="t" x="614.5" y="1852">(PP.1.26)</text></g>

<g id="n-pp121"><ellipse class="on" cx="856" cy="1606" rx="33" ry="30"/><text class="c" x="856" y="1611">PP.1.21</text></g>
<g id="n-doc-pp121"><use href="#d115" x="916" y="1548" class="doc pk"/><text class="t" x="984.5" y="1590">Preliminary P&amp;IDs</text><text class="t" x="984.5" y="1608">(PP.1.21)</text></g>
<g id="n-pp122"><ellipse class="on" cx="1155" cy="1606" rx="33" ry="30"/><text class="c" x="1155" y="1611">PP.1.22</text></g>
<g id="n-doc-pp122"><use href="#d115" x="1215" y="1548" class="doc pk"/><text class="t" x="1283.5" y="1580">Equipment</text><text class="t" x="1283.5" y="1598">Connections</text><text class="t" x="1283.5" y="1617">(PP.1.22)</text></g>
<g id="n-pp123"><ellipse class="on" cx="1440" cy="1606" rx="33" ry="30"/><text class="c" x="1440" y="1611">PP.1.23</text></g>
<g id="n-doc-pp123"><use href="#d115" x="1500" y="1548" class="doc pk"/><text class="t" x="1568.5" y="1589">P&amp;ID</text><text class="t" x="1568.5" y="1608">(PP.1.23)</text></g>
<g id="n-pp124"><ellipse class="on" cx="1718" cy="1606" rx="33" ry="30"/><text class="c" x="1718" y="1611">PP.1.24</text></g>
<g id="n-doc-pp124"><use href="#d115" x="1779" y="1548" class="doc pk"/><text class="t" x="1847.5" y="1580">Checked P&amp;ID</text><text class="t" x="1847.5" y="1598">Document</text><text class="t" x="1847.5" y="1617">(PP.1.24)</text></g>
<g id="n-pp125"><ellipse class="on" cx="1985" cy="1606" rx="33" ry="30"/><text class="c" x="1985" y="1611">PP.1.25</text></g>
<g id="n-doc-pp125"><use href="#d115" x="2045" y="1548" class="doc pk"/><text class="t" x="2113.5" y="1580">Approved P&amp;ID</text><text class="t" x="2113.5" y="1598">Document</text><text class="t" x="2113.5" y="1617">(PP.1.25)</text></g>

<g id="titleblock">
<rect x="2382" y="1658" width="612" height="234" fill="#fff" stroke="#000" stroke-width="3"/>
<path d="M2800,1658V1892" stroke="#000" stroke-width="3"/>
<path d="M2382,1686H2800M2382,1712H2800M2382,1755H2800M2382,1780H2800M2461,1658V1686M2536,1658V1686M2638,1658V1686M2667,1658V1686M2724,1658V1686M2473,1686V1712M2584,1686V1712M2716,1686V1712M2481,1712V1755M2800,1684H2994" stroke="#000" stroke-width="1.5" fill="none"/>
<text class="b20" x="2421" y="1679">Dwg</text><text class="r15" x="2498" y="1677">IFD-PP.1</text><text class="b20" x="2587" y="1679">Revision</text><text class="r15" x="2652" y="1678">A</text><text class="b20" x="2695" y="1679">Date</text><text class="r15" x="2762" y="1677">10/25/06</text>
<text class="b20" x="2427" y="1706">Source</text><text class="r15" x="2528" y="1704">CII RT-221</text><text class="b20" x="2650" y="1706">Source Task</text><text class="r15" x="2758" y="1704">PP.1</text>
<text class="b20" x="2431" y="1740">Title</text><text class="r15" x="2640" y="1729">Develop Preliminary Design Criteria Including</text><text class="r15" x="2640" y="1748">PFD's and PID's</text>
<text class="b20" x="2591" y="1774">Description</text>
<text class="ds" x="2389" y="1794">Activities in the Pre-Project Planning phase which provide</text>
<text class="ds" x="2389" y="1813">general design criteria and project objectives used as the</text>
<text class="ds" x="2389" y="1831">basis for developing the project design concept(s). After this</text>
<text class="ds" x="2389" y="1849">process is complete, the design progresses to the level</text>
<text class="ds" x="2389" y="1867">where detail design calculations and construction</text>
<text class="ds" x="2389" y="1886">documentation can be begun.</text>
<text class="b20" x="2897" y="1679">KEY</text>
<use href="#k" x="2812" y="1690" class="doc or"/><text class="r15" x="2850" y="1704">External</text>
<use href="#k" x="2902" y="1690" class="doc gr"/><text class="r15" x="2940" y="1704">BP</text>
<use href="#k" x="2812" y="1715" class="doc yl"/><text class="r15" x="2850" y="1729">SD</text>
<use href="#k" x="2902" y="1715" class="doc bl"/><text class="r15" x="2940" y="1729">TP</text>
<use href="#k" x="2812" y="1740" class="doc pu"/><text class="r15" x="2850" y="1754">CS</text>
<use href="#k" x="2902" y="1740" class="doc pk"/><text class="r15" x="2940" y="1754">PP</text>
<path class="doc wh" d="M2809,1769H2892V1794Q2871,1788 2850,1794T2809,1794Z"/><text class="r15" x="2850" y="1786">Document</text>
<path class="doc wh" d="M2917,1769H2981L2969,1794H2903Z"/><text class="r15" x="2942" y="1786">Data</text>
<ellipse class="on" cx="2850" cy="1848" rx="43" ry="37"/><text class="c" x="2850" y="1844">On-Page</text><text class="c" x="2850" y="1862">Connector</text>
<ellipse class="off" cx="2941" cy="1849" rx="43" ry="37"/><text class="cw" x="2941" y="1845">Off-Page</text><text class="cw" x="2941" y="1863">Connector</text>
</g>
</svg>
